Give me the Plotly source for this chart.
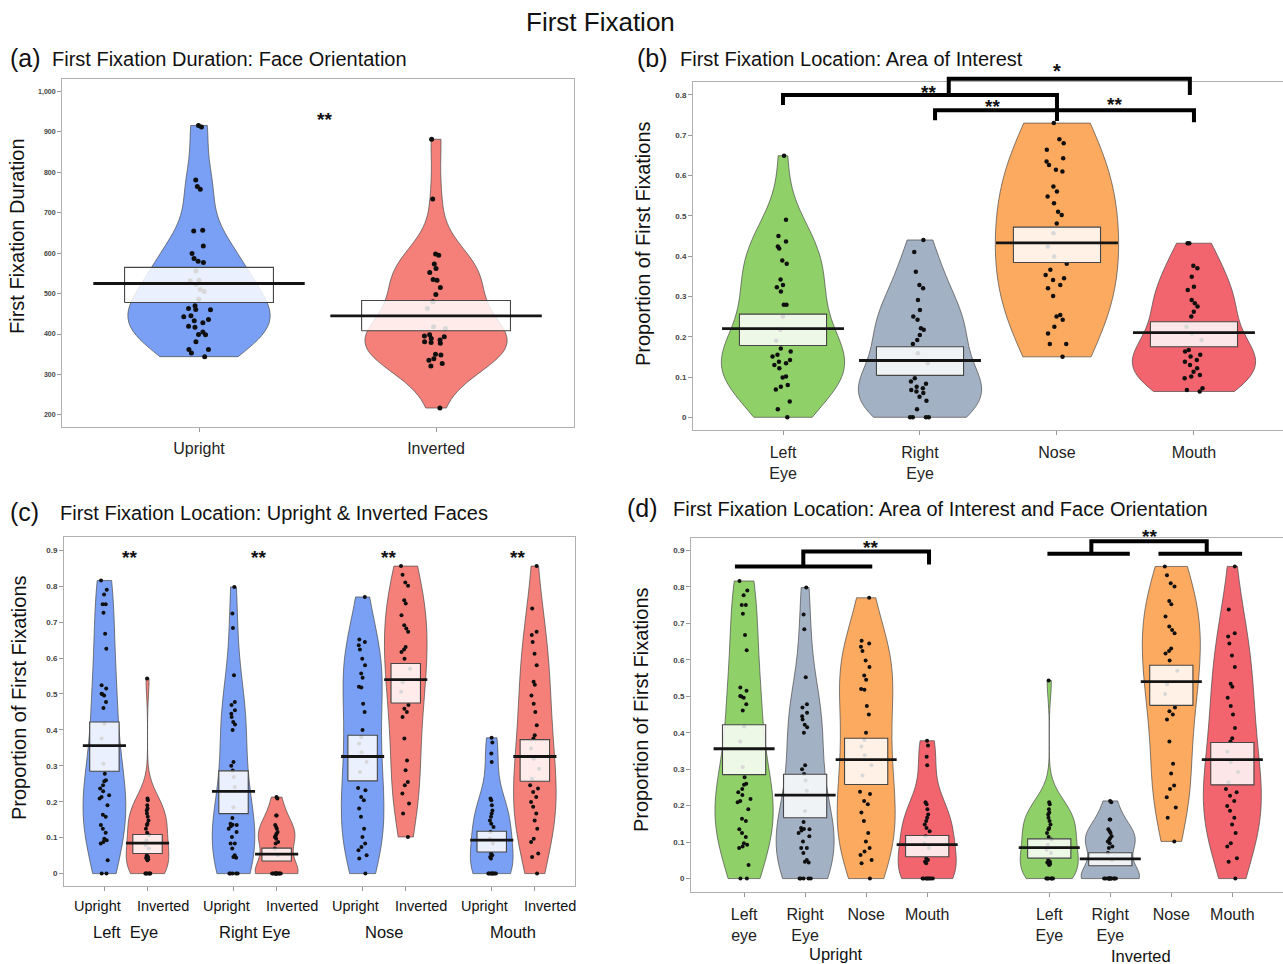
import plotly.graph_objects as go

W, H = 1283, 964

# ---------------- DATA ----------------
# (a) First fixation duration by face orientation
a_categories = ["Upright", "Inverted"]
a_upright = [912, 916, 781, 765, 758, 657, 655, 618, 599, 587, 580, 577, 556, 533, 532, 523, 510, 505,
             486, 470, 463, 460, 461, 445, 443, 436, 433, 428, 419, 417, 405, 399, 398, 381, 362, 362, 353, 344]
a_inverted = [882, 734, 598, 595, 573, 562, 552, 535, 533, 515, 498, 480, 463, 418, 414, 398, 395, 393,
              389, 385, 381, 379, 377, 350, 348, 339, 335, 327, 321, 217]
a_means = [525, 445]
a_ci_low = [478, 408]
a_ci_high = [565, 483]

# (b) First fixation location by area of interest
b_categories = ["Left<br>Eye", "Right<br>Eye", "Nose", "Mouth"]
b_left_eye = [0.649, 0.49, 0.45, 0.436, 0.424, 0.419, 0.389, 0.381, 0.342, 0.328, 0.323, 0.312, 0.279, 0.279,
              0.25, 0.217, 0.19, 0.171, 0.163, 0.155, 0.151, 0.142, 0.138, 0.134, 0.13, 0.122, 0.101, 0.099,
              0.08, 0.076, 0.069, 0.039, 0.02, 0.0]
b_right_eye = [0.44, 0.41, 0.361, 0.328, 0.32, 0.291, 0.266, 0.25, 0.242, 0.221, 0.217, 0.204, 0.192, 0.182,
               0.159, 0.134, 0.097, 0.089, 0.083, 0.076, 0.072, 0.068, 0.064, 0.06, 0.051, 0.041, 0.02,
               0.0, 0.0, 0.0, 0.0]
b_nose = [0.73, 0.69, 0.68, 0.664, 0.643, 0.635, 0.626, 0.614, 0.61, 0.573, 0.56, 0.548, 0.531, 0.51, 0.502,
          0.481, 0.457, 0.424, 0.399, 0.381, 0.366, 0.353, 0.345, 0.341, 0.328, 0.32, 0.301, 0.254, 0.25,
          0.242, 0.225, 0.208, 0.182, 0.182, 0.15]
b_mouth = [0.432, 0.432, 0.376, 0.37, 0.349, 0.324, 0.316, 0.291, 0.283, 0.275, 0.262, 0.25, 0.225, 0.208,
           0.192, 0.167, 0.163, 0.155, 0.151, 0.142, 0.138, 0.13, 0.122, 0.113, 0.105, 0.101, 0.097, 0.072,
           0.068, 0.064]
b_means = [0.220, 0.141, 0.433, 0.210]
b_ci_low = [0.178, 0.104, 0.384, 0.175]
b_ci_high = [0.256, 0.175, 0.472, 0.237]

# (c)/(d) First fixation location by AOI and orientation
c_groups = ["Left&nbsp; Eye", "Right Eye", "Nose", "Mouth"]
c_orientations = ["Upright", "Inverted"]
up_left_eye = [0.816, 0.79, 0.777, 0.75, 0.75, 0.726, 0.668, 0.626, 0.524, 0.515, 0.501, 0.499, 0.496, 0.478,
               0.461, 0.417, 0.376, 0.306, 0.278, 0.26, 0.257, 0.246, 0.237, 0.229, 0.218, 0.213, 0.209, 0.19,
               0.164, 0.158, 0.135, 0.125, 0.114, 0.097, 0.093, 0.088, 0.084, 0.037, 0.0, 0.0]
inv_left_eye = [0.543, 0.209, 0.204, 0.19, 0.181, 0.176, 0.167, 0.158, 0.148, 0.139, 0.135, 0.125, 0.114, 0.107,
                0.093, 0.079, 0.070, 0.051, 0.046, 0.044, 0.042, 0.040, 0.037, 0.0, 0.0, 0.0, 0.0, 0.0, 0.0]
up_right_eye = [0.798, 0.724, 0.684, 0.552, 0.478, 0.469, 0.455, 0.445, 0.436, 0.422, 0.415, 0.4, 0.311, 0.3,
                0.287, 0.269, 0.241, 0.185, 0.155, 0.139, 0.136, 0.135, 0.132, 0.125, 0.116, 0.102, 0.084, 0.084,
                0.07, 0.051, 0.046, 0.044, 0.0, 0.0, 0.0, 0.0, 0.0]
inv_right_eye = [0.213, 0.209, 0.162, 0.162, 0.135, 0.13, 0.125, 0.116, 0.111, 0.107, 0.102, 0.097, 0.088, 0.084,
                 0.070, 0.051, 0.0, 0.0, 0.0, 0.0, 0.0, 0.0, 0.0, 0.0, 0.0, 0.0, 0.0, 0.0]
up_nose = [0.770, 0.652, 0.645, 0.636, 0.624, 0.598, 0.58, 0.557, 0.545, 0.52, 0.518, 0.473, 0.45, 0.4, 0.38,
           0.362, 0.338, 0.311, 0.283, 0.238, 0.232, 0.213, 0.204, 0.181, 0.158, 0.125, 0.102, 0.084, 0.074,
           0.065, 0.051, 0.042, 0.0]
inv_nose = [0.856, 0.832, 0.81, 0.801, 0.761, 0.752, 0.719, 0.691, 0.682, 0.673, 0.631, 0.624, 0.617, 0.598,
            0.570, 0.533, 0.506, 0.469, 0.459, 0.45, 0.436, 0.376, 0.315, 0.288, 0.255, 0.246, 0.223, 0.195,
            0.167, 0.102]
up_mouth = [0.378, 0.365, 0.334, 0.311, 0.209, 0.204, 0.19, 0.176, 0.167, 0.158, 0.148, 0.139, 0.13, 0.116,
            0.097, 0.084, 0.056, 0.051, 0.046, 0.042, 0.0, 0.0, 0.0, 0.0, 0.0, 0.0, 0.0, 0.0]
inv_mouth = [0.856, 0.738, 0.673, 0.664, 0.645, 0.612, 0.58, 0.534, 0.526, 0.496, 0.473, 0.45, 0.413, 0.385,
             0.376, 0.348, 0.320, 0.292, 0.264, 0.246, 0.237, 0.227, 0.213, 0.199, 0.186, 0.167, 0.148, 0.125,
             0.097, 0.088, 0.056, 0.046, 0.0]
c_means_upright = [0.356, 0.229, 0.326, 0.093]
c_means_inverted = [0.085, 0.054, 0.540, 0.326]
c_ci_low_upright = [0.285, 0.167, 0.258, 0.060]
c_ci_high_upright = [0.422, 0.286, 0.385, 0.118]
c_ci_low_inverted = [0.056, 0.035, 0.475, 0.257]
c_ci_high_inverted = [0.109, 0.071, 0.585, 0.373]

d_ticks_upright = ["Left<br>eye", "Right<br>Eye", "Nose", "Mouth"]
d_ticks_inverted = ["Left<br>Eye", "Right<br>Eye", "Nose", "Mouth"]

# ---------------- STYLE ----------------
FONT = "Liberation Sans"
BLUE = "rgb(122,160,245)"
SALMON = "rgb(245,128,122)"
GREEN = "rgb(143,208,104)"
GREY = "rgb(163,177,196)"
ORANGE = "rgb(252,170,95)"
RED = "rgb(242,100,110)"
OUTLINE = "rgba(70,70,70,0.85)"
AOI_COLORS = [GREEN, GREY, ORANGE, RED]
B_BANDWIDTH = [None, None, 0.15, None]   # KDE smoothing per AOI in panel (b)

# panel geometry in pixels: x-domain, y-domain (top,bottom), axis ranges
P = {
    "a": dict(xd=(62, 574), yd=(79, 427), xr=(-0.578, 1.582), yr=(170, 1031)),
    "b": dict(xd=(693, 1283), yd=(82, 430), xr=(-0.657, 3.65), yr=(-0.0315, 0.832)),
    "c": dict(xd=(64, 575), yd=(537, 886), xr=(-0.48, 3.478), yr=(-0.0345, 0.937)),
    "d": dict(xd=(691, 1283), yd=(538, 892), xr=(-0.87, 8.83), yr=(-0.0368, 0.934)),
}
AX = {"a": ("x", "y"), "b": ("x2", "y2"), "c": ("x3", "y3"), "d": ("x4", "y4")}


def dx(p, x):
    g = P[p]
    return (g["xd"][0] + (x - g["xr"][0]) / (g["xr"][1] - g["xr"][0]) * (g["xd"][1] - g["xd"][0])) / W


def dy(p, y):
    g = P[p]
    pix = g["yd"][1] - (y - g["yr"][0]) / (g["yr"][1] - g["yr"][0]) * (g["yd"][1] - g["yd"][0])
    return 1 - pix / H


fig = go.Figure()


def add_group(p, pos, vals, mean, lo, hi, color, vwidth, box_hw, mean_hw, jitter, msize, bw=None):
    xa, ya = AX[p]
    v = go.Violin(
        x0=pos, y=vals, xaxis=xa, yaxis=ya, width=vwidth, fillcolor=color,
        line=dict(color=OUTLINE, width=0.8), spanmode="hard", points="all", pointpos=0,
        jitter=jitter, marker=dict(color="rgb(15,15,15)", size=msize, line=dict(width=0)),
        scalemode="width", side="both", showlegend=False, hoverinfo="skip", opacity=1)
    if bw is not None:
        v.bandwidth = bw
    fig.add_trace(v)
    fig.add_trace(go.Scatter(
        x=[pos - box_hw, pos + box_hw, pos + box_hw, pos - box_hw, pos - box_hw],
        y=[lo, lo, hi, hi, lo], xaxis=xa, yaxis=ya, mode="lines", fill="toself",
        fillcolor="rgba(255,255,255,0.84)", line=dict(color="rgb(70,70,70)", width=1.1),
        showlegend=False, hoverinfo="skip"))
    fig.add_trace(go.Scatter(
        x=[pos - mean_hw, pos + mean_hw], y=[mean, mean], xaxis=xa, yaxis=ya, mode="lines",
        line=dict(color="rgb(20,20,20)", width=2.8), showlegend=False, hoverinfo="skip"))


# (a)
for i, (vals, col) in enumerate(zip([a_upright, a_inverted], [BLUE, SALMON])):
    add_group("a", i, vals, a_means[i], a_ci_low[i], a_ci_high[i], col, 0.60, 0.314, 0.446, 0.22, 5)

# (b)
for i, vals in enumerate([b_left_eye, b_right_eye, b_nose, b_mouth]):
    add_group("b", i, vals, b_means[i], b_ci_low[i], b_ci_high[i], AOI_COLORS[i], 0.9, 0.318, 0.445, 0.2, 4.5,
              bw=B_BANDWIDTH[i])

# (c)
c_up = [up_left_eye, up_right_eye, up_nose, up_mouth]
c_inv = [inv_left_eye, inv_right_eye, inv_nose, inv_mouth]
C_OFF = 0.167
for g in range(4):
    add_group("c", g - C_OFF, c_up[g], c_means_upright[g], c_ci_low_upright[g], c_ci_high_upright[g],
              BLUE, 0.33, 0.114, 0.167, 0.25, 4)
    add_group("c", g + C_OFF, c_inv[g], c_means_inverted[g], c_ci_low_inverted[g], c_ci_high_inverted[g],
              SALMON, 0.33, 0.114, 0.167, 0.25, 4)

# (d)
for g in range(4):
    add_group("d", g, c_up[g], c_means_upright[g], c_ci_low_upright[g], c_ci_high_upright[g],
              AOI_COLORS[g], 0.95, 0.354, 0.5, 0.25, 4)
    add_group("d", g + 5, c_inv[g], c_means_inverted[g], c_ci_low_inverted[g], c_ci_high_inverted[g],
              AOI_COLORS[g], 0.95, 0.354, 0.5, 0.25, 4)

# ---------------- AXES ----------------
tickfont = dict(family=FONT, size=8, color="#444", weight="bold")
labfont = dict(family=FONT, size=16, color="#222")


def axis_common():
    return dict(showline=True, mirror=True, linecolor="#b0b0b0", linewidth=1, showgrid=False,
                zeroline=False, ticks="outside", ticklen=4, tickcolor="#999", type="linear", tickangle=0)


layout_axes = {}
for k, (xa, ya) in AX.items():
    g = P[k]
    xname = "xaxis" + xa[1:]
    yname = "yaxis" + ya[1:]
    xd = (g["xd"][0] / W, g["xd"][1] / W)
    yd = (1 - g["yd"][1] / H, 1 - g["yd"][0] / H)
    layout_axes[xname] = dict(axis_common(), domain=xd, range=list(g["xr"]), anchor=ya, tickfont=labfont)
    layout_axes[yname] = dict(axis_common(), domain=yd, range=list(g["yr"]), anchor=xa, tickfont=tickfont)

layout_axes["xaxis"].update(tickvals=[0, 1], ticktext=a_categories, ticklabelstandoff=3)
layout_axes["yaxis"].update(tickvals=list(range(200, 1001, 100)), tickformat=",d", tickfont=dict(tickfont, size=7))
layout_axes["xaxis2"].update(tickvals=[0, 1, 2, 3], ticktext=b_categories, ticklabelstandoff=4)
layout_axes["yaxis2"].update(tickvals=[i / 10 for i in range(9)])
c_tickpos = [g + s * C_OFF for g in range(4) for s in (-1, 1)]
layout_axes["xaxis3"].update(tickvals=c_tickpos, showticklabels=False)
layout_axes["yaxis3"].update(tickvals=[i / 10 for i in range(10)])
layout_axes["xaxis4"].update(tickvals=[0, 1, 2, 3, 5, 6, 7, 8],
                             ticktext=d_ticks_upright + d_ticks_inverted, ticklabelstandoff=4)
layout_axes["yaxis4"].update(tickvals=[i / 10 for i in range(10)])

# ---------------- ANNOTATIONS ----------------
ann = []


def text(x, y, s, size, xanchor="center", angle=0):
    ann.append(dict(x=x / W, y=1 - y / H, xref="paper", yref="paper", text=s, showarrow=False,
                    xanchor=xanchor, yanchor="middle", textangle=angle,
                    font=dict(family=FONT, size=size, color="#111")))


text(600, 22, "First Fixation", 26)
text(8, 58, "(a)", 25, "left")
text(50, 59, "First Fixation Duration: Face Orientation", 20, "left")
text(635, 58, "(b)", 25, "left")
text(678, 59, "First Fixation Location: Area of Interest", 20, "left")
text(8, 512, "(c)", 25, "left")
text(58, 513, "First Fixation Location: Upright &amp; Inverted Faces", 20, "left")
text(625, 508, "(d)", 25, "left")
text(671, 509, "First Fixation Location: Area of Interest and Face Orientation", 20, "left")

text(17, 236, "First Fixation Duration", 20, angle=-90)
text(643, 243, "Proportion of First Fixations", 20, angle=-90)
text(19, 698, "Proportion of First Fixations", 20, angle=-90)
text(641, 710, "Proportion of First Fixations", 20, angle=-90)


def label(p, x, ypix, s, size, shift_px=0):
    ann.append(dict(x=dx(p, x) + shift_px / W, y=1 - ypix / H, xref="paper", yref="paper", text=s,
                    showarrow=False, xanchor="center", yanchor="middle",
                    font=dict(family=FONT, size=size, color="#111")))


# (c) orientation labels under each violin and group labels
for g in range(4):
    label("c", g - C_OFF, 906, c_orientations[0], 14.5, shift_px=-7)
    label("c", g + C_OFF, 906, c_orientations[1], 14.5, shift_px=15)
    label("c", g, 932, c_groups[g], 16.5)
# (d) orientation group labels
label("d", 1.5, 954, c_orientations[0], 16.5)
label("d", 6.5, 956, c_orientations[1], 16.5)


def star(p, x, y, s, size=19):
    ann.append(dict(x=dx(p, x), y=dy(p, y), xref="paper", yref="paper", text="<b>" + s + "</b>",
                    showarrow=False, xanchor="center", yanchor="middle",
                    font=dict(family=FONT, size=size, color="#111")))


star("a", 0.53, 932, "**")
star("b", 1.06, 0.805, "**")
star("b", 1.53, 0.770, "**")
star("b", 2.42, 0.777, "**")
star("b", 2.0, 0.859, "*", 20)
for g in range(4):
    star("c", g + 0.03, 0.881, "**")
star("d", 2.07, 0.909, "**")
star("d", 6.64, 0.937, "**")

# ---------------- BRACKETS ----------------
shapes = []


def bracket(p, pts, w=4):
    path = "M " + " L ".join(f"{dx(p, x):.5f},{dy(p, y):.5f}" for x, y in pts)
    shapes.append(dict(type="path", path=path, xref="paper", yref="paper",
                       line=dict(color="black", width=w)))


bracket("b", [(0, 0.775), (0, 0.80), (2, 0.80), (2, 0.735)])
bracket("b", [(1.11, 0.737), (1.11, 0.762), (3, 0.762), (3, 0.732)])
bracket("b", [(1.21, 0.80), (1.21, 0.84), (2.97, 0.84), (2.97, 0.80)])
bracket("d", [(-0.15, 0.856), (2.1, 0.856)])
bracket("d", [(0.97, 0.856), (0.97, 0.897), (3.03, 0.897), (3.03, 0.861)])
bracket("d", [(4.97, 0.891), (6.32, 0.891)])
bracket("d", [(6.79, 0.891), (8.16, 0.891)])
bracket("d", [(5.69, 0.891), (5.69, 0.925), (7.58, 0.925), (7.58, 0.891)])

fig.update_layout(
    width=W, height=H, margin=dict(l=0, r=0, t=0, b=0), paper_bgcolor="white", plot_bgcolor="white",
    violinmode="overlay", showlegend=False, hovermode=False, annotations=ann, shapes=shapes,
    font=dict(family=FONT), **layout_axes)

fig.write_html("out.html")
